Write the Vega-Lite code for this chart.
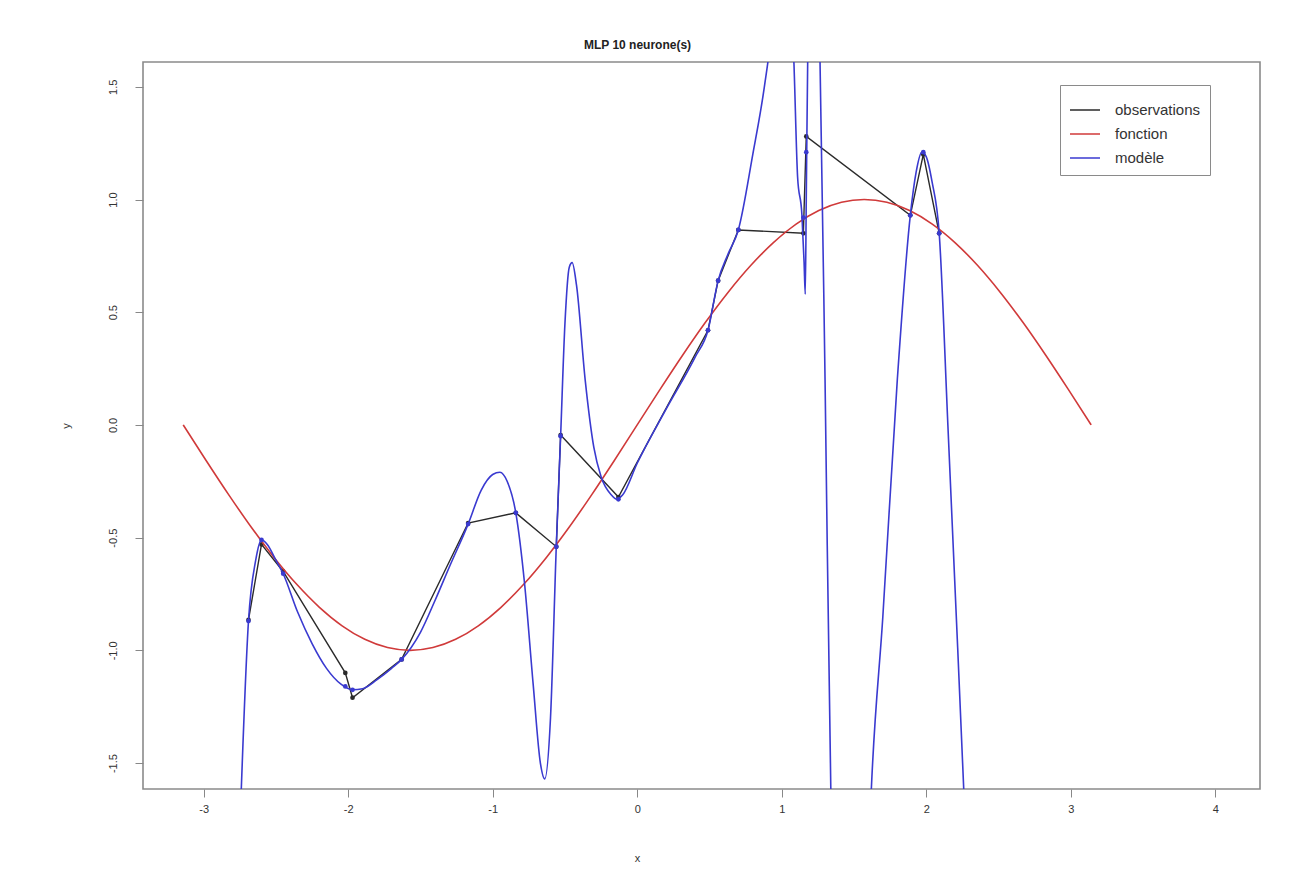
{
  "$schema": "https://vega.github.io/schema/vega-lite/v6.json",
  "autosize": "none",
  "width": 1117,
  "height": 727,
  "padding": {"left": 143, "top": 62, "right": 44, "bottom": 91},
  "background": "white",
  "title": {"text": "MLP 10 neurone(s)", "fontSize": 12, "font": "Liberation Sans", "fontWeight": "bold", "color": "#222", "offset": 10, "dx": -64},
  "config": {
    "view": {"stroke": "#8a8a8a", "strokeWidth": 1.6},
    "font": "Liberation Sans",
    "axis": {"grid": false, "domain": false, "tickColor": "#888", "tickSize": 8, "labelColor": "#333", "labelFontSize": 11, "titleColor": "#333", "titleFontWeight": "normal", "titleFontSize": 11}
  },
  "datasets": {
    "fn": [
      {"x": -3.1416, "y": 0, "serie": "fonction"},
      {"x": -2.9845, "y": -0.1564, "serie": "fonction"},
      {"x": -2.8274, "y": -0.309, "serie": "fonction"},
      {"x": -2.6704, "y": -0.454, "serie": "fonction"},
      {"x": -2.5133, "y": -0.5878, "serie": "fonction"},
      {"x": -2.3562, "y": -0.7071, "serie": "fonction"},
      {"x": -2.1991, "y": -0.809, "serie": "fonction"},
      {"x": -2.042, "y": -0.891, "serie": "fonction"},
      {"x": -1.885, "y": -0.9511, "serie": "fonction"},
      {"x": -1.7279, "y": -0.9877, "serie": "fonction"},
      {"x": -1.5708, "y": -1, "serie": "fonction"},
      {"x": -1.4137, "y": -0.9877, "serie": "fonction"},
      {"x": -1.2566, "y": -0.9511, "serie": "fonction"},
      {"x": -1.0996, "y": -0.891, "serie": "fonction"},
      {"x": -0.9425, "y": -0.809, "serie": "fonction"},
      {"x": -0.7854, "y": -0.7071, "serie": "fonction"},
      {"x": -0.6283, "y": -0.5878, "serie": "fonction"},
      {"x": -0.4712, "y": -0.454, "serie": "fonction"},
      {"x": -0.3142, "y": -0.309, "serie": "fonction"},
      {"x": -0.1571, "y": -0.1564, "serie": "fonction"},
      {"x": 0, "y": 0, "serie": "fonction"},
      {"x": 0.1571, "y": 0.1564, "serie": "fonction"},
      {"x": 0.3142, "y": 0.309, "serie": "fonction"},
      {"x": 0.4712, "y": 0.454, "serie": "fonction"},
      {"x": 0.6283, "y": 0.5878, "serie": "fonction"},
      {"x": 0.7854, "y": 0.7071, "serie": "fonction"},
      {"x": 0.9425, "y": 0.809, "serie": "fonction"},
      {"x": 1.0996, "y": 0.891, "serie": "fonction"},
      {"x": 1.2566, "y": 0.9511, "serie": "fonction"},
      {"x": 1.4137, "y": 0.9877, "serie": "fonction"},
      {"x": 1.5708, "y": 1, "serie": "fonction"},
      {"x": 1.7279, "y": 0.9877, "serie": "fonction"},
      {"x": 1.885, "y": 0.9511, "serie": "fonction"},
      {"x": 2.042, "y": 0.891, "serie": "fonction"},
      {"x": 2.1991, "y": 0.809, "serie": "fonction"},
      {"x": 2.3562, "y": 0.7071, "serie": "fonction"},
      {"x": 2.5133, "y": 0.5878, "serie": "fonction"},
      {"x": 2.6704, "y": 0.454, "serie": "fonction"},
      {"x": 2.8274, "y": 0.309, "serie": "fonction"},
      {"x": 2.9845, "y": 0.1564, "serie": "fonction"},
      {"x": 3.1416, "y": 0, "serie": "fonction"}
    ],
    "obs": [
      {"x": -2.69, "y": -0.865, "serie": "observations"},
      {"x": -2.6, "y": -0.53, "serie": "observations"},
      {"x": -2.45, "y": -0.65, "serie": "observations"},
      {"x": -2.02, "y": -1.1, "serie": "observations"},
      {"x": -1.97, "y": -1.21, "serie": "observations"},
      {"x": -1.63, "y": -1.04, "serie": "observations"},
      {"x": -1.17, "y": -0.435, "serie": "observations"},
      {"x": -0.84, "y": -0.39, "serie": "observations"},
      {"x": -0.56, "y": -0.54, "serie": "observations"},
      {"x": -0.53, "y": -0.045, "serie": "observations"},
      {"x": -0.13, "y": -0.32, "serie": "observations"},
      {"x": 0.49, "y": 0.42, "serie": "observations"},
      {"x": 0.56, "y": 0.64, "serie": "observations"},
      {"x": 0.7, "y": 0.865, "serie": "observations"},
      {"x": 1.15, "y": 0.85, "serie": "observations"},
      {"x": 1.17, "y": 1.28, "serie": "observations"},
      {"x": 1.89, "y": 0.93, "serie": "observations"},
      {"x": 1.98, "y": 1.2, "serie": "observations"},
      {"x": 2.09, "y": 0.85, "serie": "observations"}
    ],
    "model": [
      {"x": -2.77, "y": -2.2, "serie": "modèle"},
      {"x": -2.74, "y": -1.62, "serie": "modèle"},
      {"x": -2.69, "y": -0.87, "serie": "modèle"},
      {"x": -2.64, "y": -0.6, "serie": "modèle"},
      {"x": -2.6, "y": -0.51, "serie": "modèle"},
      {"x": -2.56, "y": -0.53, "serie": "modèle"},
      {"x": -2.5, "y": -0.6, "serie": "modèle"},
      {"x": -2.45, "y": -0.66, "serie": "modèle"},
      {"x": -2.35, "y": -0.83, "serie": "modèle"},
      {"x": -2.25, "y": -0.97, "serie": "modèle"},
      {"x": -2.15, "y": -1.08, "serie": "modèle"},
      {"x": -2.05, "y": -1.15, "serie": "modèle"},
      {"x": -1.97, "y": -1.175, "serie": "modèle"},
      {"x": -1.9, "y": -1.17, "serie": "modèle"},
      {"x": -1.8, "y": -1.13, "serie": "modèle"},
      {"x": -1.7, "y": -1.08, "serie": "modèle"},
      {"x": -1.63, "y": -1.04, "serie": "modèle"},
      {"x": -1.5, "y": -0.92, "serie": "modèle"},
      {"x": -1.4, "y": -0.78, "serie": "modèle"},
      {"x": -1.3, "y": -0.63, "serie": "modèle"},
      {"x": -1.17, "y": -0.44, "serie": "modèle"},
      {"x": -1.08, "y": -0.29, "serie": "modèle"},
      {"x": -1.0, "y": -0.22, "serie": "modèle"},
      {"x": -0.95, "y": -0.21, "serie": "modèle"},
      {"x": -0.9, "y": -0.25, "serie": "modèle"},
      {"x": -0.84, "y": -0.39, "serie": "modèle"},
      {"x": -0.78, "y": -0.7, "serie": "modèle"},
      {"x": -0.72, "y": -1.15, "serie": "modèle"},
      {"x": -0.67, "y": -1.5, "serie": "modèle"},
      {"x": -0.64, "y": -1.57, "serie": "modèle"},
      {"x": -0.6, "y": -1.3, "serie": "modèle"},
      {"x": -0.56, "y": -0.54, "serie": "modèle"},
      {"x": -0.53, "y": -0.05, "serie": "modèle"},
      {"x": -0.5, "y": 0.45, "serie": "modèle"},
      {"x": -0.47, "y": 0.7, "serie": "modèle"},
      {"x": -0.45, "y": 0.72, "serie": "modèle"},
      {"x": -0.42, "y": 0.62, "serie": "modèle"},
      {"x": -0.36, "y": 0.2, "serie": "modèle"},
      {"x": -0.3, "y": -0.1, "serie": "modèle"},
      {"x": -0.25, "y": -0.23, "serie": "modèle"},
      {"x": -0.18, "y": -0.31, "serie": "modèle"},
      {"x": -0.14, "y": -0.33, "serie": "modèle"},
      {"x": -0.1, "y": -0.31, "serie": "modèle"},
      {"x": 0.0, "y": -0.17, "serie": "modèle"},
      {"x": 0.2, "y": 0.07, "serie": "modèle"},
      {"x": 0.4, "y": 0.3, "serie": "modèle"},
      {"x": 0.49, "y": 0.42, "serie": "modèle"},
      {"x": 0.56, "y": 0.64, "serie": "modèle"},
      {"x": 0.63, "y": 0.76, "serie": "modèle"},
      {"x": 0.7, "y": 0.865, "serie": "modèle"},
      {"x": 0.8, "y": 1.2, "serie": "modèle"},
      {"x": 0.88, "y": 1.5, "serie": "modèle"},
      {"x": 0.93, "y": 1.75, "serie": "modèle"},
      {"x": 1.0, "y": 2.4, "serie": "modèle"},
      {"x": 1.06, "y": 2.0, "serie": "modèle"},
      {"x": 1.085, "y": 1.6, "serie": "modèle"},
      {"x": 1.11, "y": 1.1, "serie": "modèle"},
      {"x": 1.14, "y": 0.93, "serie": "modèle"},
      {"x": 1.155, "y": 0.72, "serie": "modèle"},
      {"x": 1.163, "y": 0.58, "serie": "modèle"},
      {"x": 1.17, "y": 1.0, "serie": "modèle"},
      {"x": 1.18, "y": 1.62, "serie": "modèle"},
      {"x": 1.22, "y": 2.4, "serie": "modèle"},
      {"x": 1.265, "y": 1.62, "serie": "modèle"},
      {"x": 1.3, "y": 0.2, "serie": "modèle"},
      {"x": 1.34, "y": -1.62, "serie": "modèle"},
      {"x": 1.4, "y": -2.5, "serie": "modèle"},
      {"x": 1.5, "y": -3.0, "serie": "modèle"},
      {"x": 1.58, "y": -2.3, "serie": "modèle"},
      {"x": 1.62, "y": -1.62, "serie": "modèle"},
      {"x": 1.7, "y": -0.85, "serie": "modèle"},
      {"x": 1.8, "y": 0.2, "serie": "modèle"},
      {"x": 1.89, "y": 0.93, "serie": "modèle"},
      {"x": 1.93, "y": 1.12, "serie": "modèle"},
      {"x": 1.97, "y": 1.21, "serie": "modèle"},
      {"x": 2.0, "y": 1.19, "serie": "modèle"},
      {"x": 2.04, "y": 1.08, "serie": "modèle"},
      {"x": 2.09, "y": 0.85, "serie": "modèle"},
      {"x": 2.15, "y": 0.0, "serie": "modèle"},
      {"x": 2.2, "y": -0.73, "serie": "modèle"},
      {"x": 2.26, "y": -1.62, "serie": "modèle"},
      {"x": 2.3, "y": -2.3, "serie": "modèle"}
    ],
    "modelpts": [
      {"x": -2.69, "y": -0.87, "serie": "modèle"},
      {"x": -2.6, "y": -0.51, "serie": "modèle"},
      {"x": -2.45, "y": -0.66, "serie": "modèle"},
      {"x": -2.02, "y": -1.16, "serie": "modèle"},
      {"x": -1.97, "y": -1.175, "serie": "modèle"},
      {"x": -1.63, "y": -1.04, "serie": "modèle"},
      {"x": -1.17, "y": -0.44, "serie": "modèle"},
      {"x": -0.84, "y": -0.39, "serie": "modèle"},
      {"x": -0.56, "y": -0.54, "serie": "modèle"},
      {"x": -0.53, "y": -0.05, "serie": "modèle"},
      {"x": -0.13, "y": -0.33, "serie": "modèle"},
      {"x": 0.49, "y": 0.42, "serie": "modèle"},
      {"x": 0.56, "y": 0.64, "serie": "modèle"},
      {"x": 0.7, "y": 0.865, "serie": "modèle"},
      {"x": 1.15, "y": 0.92, "serie": "modèle"},
      {"x": 1.17, "y": 1.21, "serie": "modèle"},
      {"x": 1.89, "y": 0.93, "serie": "modèle"},
      {"x": 1.98, "y": 1.21, "serie": "modèle"},
      {"x": 2.09, "y": 0.85, "serie": "modèle"}
    ]
  },
  "encoding": {
    "x": {"field": "x", "type": "quantitative", "scale": {"domain": [-3.42, 4.31], "nice": false, "zero": false},
      "axis": {"values": [-3, -2, -1, 0, 1, 2, 3, 4], "labelPadding": 6, "title": "x", "titlePadding": 38, "titleX": 494,
        "labelExpr": "datum.value < 0 ? '-' + format(-datum.value, 'd') : format(datum.value, 'd')"}},
    "y": {"field": "y", "type": "quantitative", "scale": {"domain": [-1.615, 1.61], "nice": false, "zero": false},
      "axis": {"values": [-1.5, -1, -0.5, 0, 0.5, 1, 1.5], "labelAngle": -90, "labelAlign": "center", "labelBaseline": "bottom", "labelPadding": 17,
        "title": "y", "titlePadding": 36,
        "labelExpr": "datum.value < 0 ? '-' + format(-datum.value, '.1f') : format(datum.value, '.1f')"}},
    "color": {"field": "serie", "type": "nominal",
      "scale": {"domain": ["observations", "fonction", "modèle"], "range": ["#2a2a2a", "#d03a3a", "#3a3ad0"]},
      "legend": {"title": null, "orient": "none", "legendX": 917, "legendY": 23, "symbolType": "stroke", "symbolSize": 900, "symbolStrokeWidth": 1.5,
        "labelFontSize": 15, "labelColor": "#333", "strokeColor": "#8a8a8a", "padding": 9, "rowPadding": -6, "labelOffset": 14}}
  },
  "layer": [
    {"data": {"name": "obs"}, "mark": {"type": "line", "clip": true, "strokeWidth": 1.4}},
    {"data": {"name": "obs"}, "mark": {"type": "circle", "clip": true, "size": 22, "opacity": 1}},
    {"data": {"name": "fn"}, "mark": {"type": "line", "clip": true, "strokeWidth": 1.6, "interpolate": "monotone"}},
    {"data": {"name": "model"}, "mark": {"type": "line", "clip": true, "strokeWidth": 1.6, "interpolate": "monotone"}},
    {"data": {"name": "modelpts"}, "mark": {"type": "circle", "clip": true, "size": 22, "opacity": 1}}
  ]
}
